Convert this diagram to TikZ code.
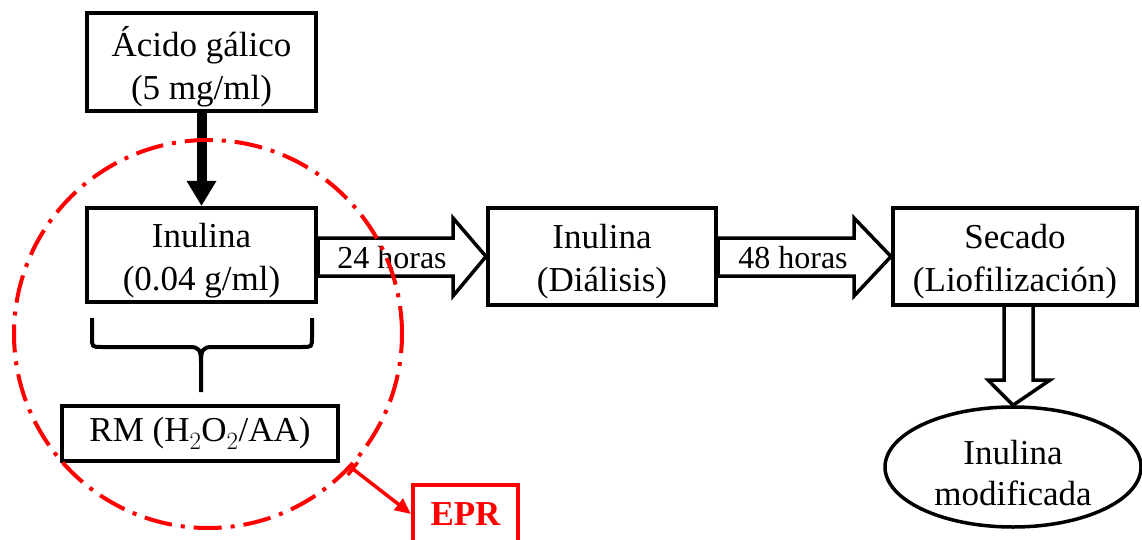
\documentclass[tikz,border=0pt]{standalone}
\usepackage{fontspec}
\setmainfont{Liberation Serif}
\usetikzlibrary{arrows.meta,shapes.geometric,calc}
\begin{document}
\begin{tikzpicture}[x=1pt,y=-1pt,
  box/.style={draw, line width=4pt, inner sep=0pt},
  txt/.style={align=center, inner sep=0pt, font=\fontsize{35}{43}\selectfont},
  blockarrow/.style={draw, line width=3.5pt, fill=white, line join=miter},
  lbl/.style={font=\fontsize{32}{38}\selectfont, inner sep=0pt},
  ring/.style={circle, draw=red, line width=4pt, inner sep=0pt, minimum size=388pt,
    dash pattern=on 28pt off 9pt on 4pt off 9pt}]
\useasboundingbox (0,0) rectangle (1142,540);
\fill[white] (0,0) rectangle (1142,540);

% boxes
\node[box, minimum width=229pt, minimum height=98pt] (acido) at (201.5,62) {};
\node[txt] (acidoT) at ($(acido.center)+(0,5)$) {Ácido gálico\\(5 mg/ml)};
\node[box, minimum width=229pt, minimum height=94pt] (inul) at (201.5,255) {};
\node[txt] (inulT) at ($(inul.center)+(0,6)$) {Inulina\\(0.04 g/ml)};
\node[box, minimum width=228pt, minimum height=97pt] (dial) at (602,256.5) {};
\node[txt] (dialT) at ($(dial.center)+(0,5)$) {Inulina\\(Diálisis)};
\node[box, minimum width=244pt, minimum height=97pt] (sec) at (1015,256.5) {};
\node[txt] (secT) at ($(sec.center)+(0,5)$) {Secado\\(Liofilización)};
\node[box, txt, minimum width=276pt, minimum height=55pt] (rm) at (200,433.5) {RM (H$_2$O$_2$/AA)};
\node[box, draw=red, text=red, minimum width=105pt, minimum height=58pt, font=\fontsize{35}{42}\selectfont\bfseries] (epr) at (465.5,514) {EPR};
\node[ellipse, draw, line width=3.5pt, align=center, inner sep=0pt, minimum width=256pt, minimum height=120pt] (ell) at (1013,467) {};
\node[txt, font=\fontsize{35}{41}\selectfont] (ellT) at ($(ell.center)+(0,6)$) {Inulina\\modificada};

% thick arrow
\draw[line width=10pt, -{Triangle[length=25pt,width=28pt]}] (acido.south) -- (inul.north);

% block arrow 24 horas
\draw[blockarrow] ($(inul.east)+(0,-17)$) -- ($(inul.east)+(135,-17)$) -- ($(inul.east)+(135,-37)$)
  -- (dial.west) -- ($(inul.east)+(135,41)$) -- ($(inul.east)+(135,21)$) -- ($(inul.east)+(0,21)$) -- cycle;
\node[lbl] (h24) at (392,258) {24 horas};

% block arrow 48 horas
\draw[blockarrow] ($(dial.east)+(0,-18.5)$) -- ($(dial.east)+(136,-18.5)$) -- ($(dial.east)+(136,-38.5)$)
  -- (sec.west) -- ($(dial.east)+(136,39.5)$) -- ($(dial.east)+(136,19.5)$) -- ($(dial.east)+(0,19.5)$) -- cycle;
\node[lbl] (h48) at (793,258) {48 horas};

% block arrow down
\draw[blockarrow] ($(sec.south)+(-11,0)$) -- ($(sec.south)+(-11,73)$) -- ($(sec.south)+(-27,73)$)
  -- (ell.north) -- ($(sec.south)+(35,73)$) -- ($(sec.south)+(18,73)$) -- ($(sec.south)+(18,0)$);

% brace
\draw[line width=4pt, line cap=butt] (92,318) -- (92,337) .. controls (92,347) .. (102,347) -- (190,347)
  .. controls (199,347) and (201,350) .. (201,362) -- (201,392);
\draw[line width=4pt, line cap=butt] (312,318) -- (312,337) .. controls (312,347) .. (302,347) -- (212,347)
  .. controls (203,347) and (201,350) .. (201,362);

% red ring and arrow
\node[ring] (ringc) at (208,334) {};
\draw[red, line width=3.5pt, {Bar[width=16pt]}-{Triangle[length=16pt,width=14pt]}] (ringc.-43.5) -- (epr.west);
\end{tikzpicture}
\end{document}
